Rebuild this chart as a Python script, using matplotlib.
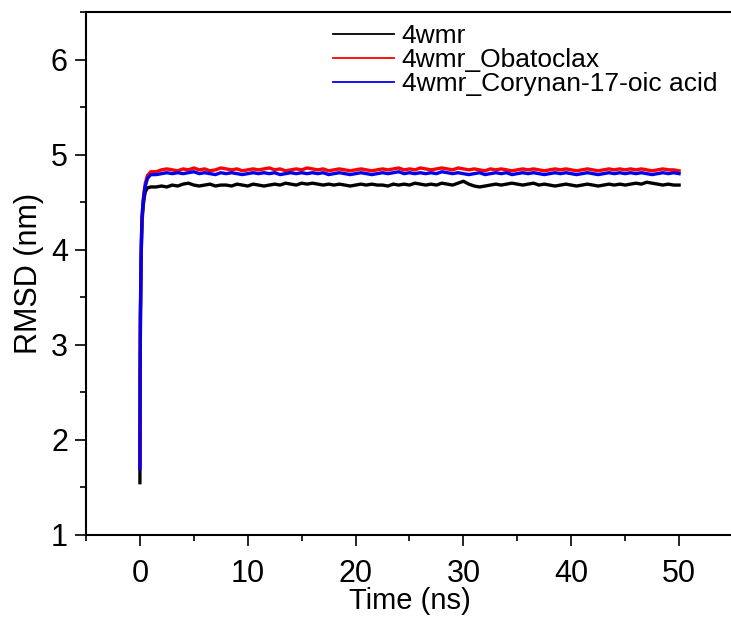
import numpy as np
import matplotlib
matplotlib.use('Agg')
import matplotlib.pyplot as plt
from matplotlib.ticker import MultipleLocator

plt.rcParams['font.family'] = ['Liberation Sans', 'DejaVu Sans']

# Subida inicial (0 - 1 ns)
t_subida = [0, 0.02, 0.05, 0.1, 0.15, 0.2, 0.3, 0.4, 0.5, 0.7, 1.0]
negro_subida = [1.55, 2.60, 3.30, 3.80, 4.10, 4.30, 4.45, 4.55, 4.61, 4.65, 4.66]
rojo_subida = [1.72, 2.70, 3.35, 3.85, 4.15, 4.35, 4.52, 4.62, 4.70, 4.78, 4.82]
azul_subida = [1.70, 2.70, 3.35, 3.85, 4.15, 4.35, 4.50, 4.60, 4.67, 4.75, 4.79]

# Meseta, cada 0.5 ns de 1.5 a 50 ns
t_meseta = np.arange(1.5, 50.01, 0.5)
negro_meseta = [
    4.66, 4.67, 4.66, 4.68, 4.67, 4.69, 4.70, 4.68, 4.67, 4.68,
    4.69, 4.67, 4.68, 4.68, 4.67, 4.69, 4.68, 4.67, 4.69, 4.68,
    4.67, 4.68, 4.69, 4.68, 4.70, 4.69, 4.68, 4.70, 4.69, 4.70,
    4.69, 4.68, 4.69, 4.68, 4.69, 4.68, 4.67, 4.68, 4.69, 4.68,
    4.69, 4.68, 4.68, 4.67, 4.69, 4.68, 4.69, 4.68, 4.70, 4.69,
    4.68, 4.69, 4.68, 4.70, 4.69, 4.68, 4.70, 4.72, 4.69, 4.67,
    4.66, 4.67, 4.68, 4.69, 4.68, 4.69, 4.70, 4.69, 4.68, 4.69,
    4.70, 4.68, 4.69, 4.68, 4.67, 4.68, 4.69, 4.68, 4.67, 4.68,
    4.69, 4.68, 4.67, 4.68, 4.69, 4.68, 4.69, 4.68, 4.69, 4.70,
    4.69, 4.71, 4.70, 4.69, 4.68, 4.69, 4.68, 4.68,
]
rojo_meseta = [
    4.82, 4.84, 4.85, 4.84, 4.83, 4.85, 4.84, 4.86, 4.84, 4.85,
    4.83, 4.84, 4.86, 4.85, 4.84, 4.85, 4.83, 4.84, 4.85, 4.84,
    4.85, 4.86, 4.84, 4.85, 4.83, 4.84, 4.85, 4.84, 4.86, 4.85,
    4.84, 4.85, 4.83, 4.84, 4.85, 4.84, 4.83, 4.84, 4.85, 4.84,
    4.83, 4.84, 4.85, 4.84, 4.85, 4.86, 4.84, 4.85, 4.84, 4.86,
    4.85, 4.84, 4.85, 4.86, 4.85, 4.84, 4.86, 4.85, 4.84, 4.85,
    4.84, 4.83, 4.85, 4.84, 4.85, 4.84, 4.83, 4.84, 4.85, 4.84,
    4.85, 4.84, 4.83, 4.84, 4.85, 4.84, 4.85, 4.84, 4.83, 4.84,
    4.85, 4.84, 4.83, 4.84, 4.85, 4.84, 4.85, 4.84, 4.85, 4.84,
    4.85, 4.84, 4.83, 4.84, 4.85, 4.84, 4.84, 4.83,
]
azul_meseta = [
    4.79, 4.80, 4.81, 4.80, 4.81, 4.80, 4.81, 4.82, 4.80, 4.81,
    4.80, 4.79, 4.81, 4.80, 4.81, 4.80, 4.79, 4.80, 4.81, 4.80,
    4.81, 4.80, 4.81, 4.79, 4.80, 4.81, 4.80, 4.81, 4.80, 4.81,
    4.80, 4.81, 4.79, 4.80, 4.81, 4.80, 4.79, 4.80, 4.81, 4.80,
    4.79, 4.80, 4.81, 4.80, 4.81, 4.82, 4.80, 4.81, 4.80, 4.81,
    4.80, 4.81, 4.80, 4.82, 4.81, 4.80, 4.81, 4.80, 4.79, 4.80,
    4.81, 4.79, 4.80, 4.81, 4.80, 4.81, 4.79, 4.80, 4.81, 4.80,
    4.81, 4.80, 4.79, 4.80, 4.81, 4.80, 4.81, 4.80, 4.79, 4.80,
    4.81, 4.80, 4.79, 4.80, 4.81, 4.80, 4.81, 4.80, 4.81, 4.80,
    4.81, 4.80, 4.79, 4.80, 4.81, 4.80, 4.81, 4.80,
]

etiquetas = ['4wmr', '4wmr_Obatoclax', '4wmr_Corynan-17-oic acid']
colores = ['black', 'red', '#0000ee']

t = np.concatenate([t_subida, t_meseta])
series = [
    np.concatenate([negro_subida, negro_meseta]),
    np.concatenate([rojo_subida, rojo_meseta]),
    np.concatenate([azul_subida, azul_meseta]),
]

fig = plt.figure(figsize=(7.31, 6.17), dpi=100)
ax = fig.add_axes([86 / 731, 1 - 535 / 617, 647 / 731, 523 / 617])

for y, etiqueta, color in zip(series, etiquetas, colores):
    ax.plot(t, y, color=color, lw=2.4, label=etiqueta)

ax.set_xlim(-5, 55)
ax.set_ylim(1, 6.5)
ax.xaxis.set_major_locator(MultipleLocator(10))
ax.xaxis.set_minor_locator(MultipleLocator(5))
ax.yaxis.set_major_locator(MultipleLocator(1))
ax.yaxis.set_minor_locator(MultipleLocator(0.5))
ax.tick_params(which='major', direction='out', length=8, width=1.2, labelsize=22)
ax.tick_params(axis='x', which='major', pad=9)
ax.tick_params(axis='y', which='major', pad=5)
ax.tick_params(which='minor', direction='out', length=4, width=1.2)
for s in ax.spines.values():
    s.set_linewidth(1.5)

ax.set_xlabel('Time (ns)', fontsize=21, labelpad=-1)
ax.set_ylabel('RMSD (nm)', fontsize=22, labelpad=5)

leg = fig.legend(loc='upper left', bbox_to_anchor=(333 / 731, 1 - 24 / 617),
                 frameon=False, fontsize=19, handlelength=2.3, handletextpad=0.3,
                 labelspacing=0.0, borderpad=0, borderaxespad=0)
for linea in leg.get_lines():
    linea.set_linewidth(1.3)

fig.savefig('out.png', dpi=100)
